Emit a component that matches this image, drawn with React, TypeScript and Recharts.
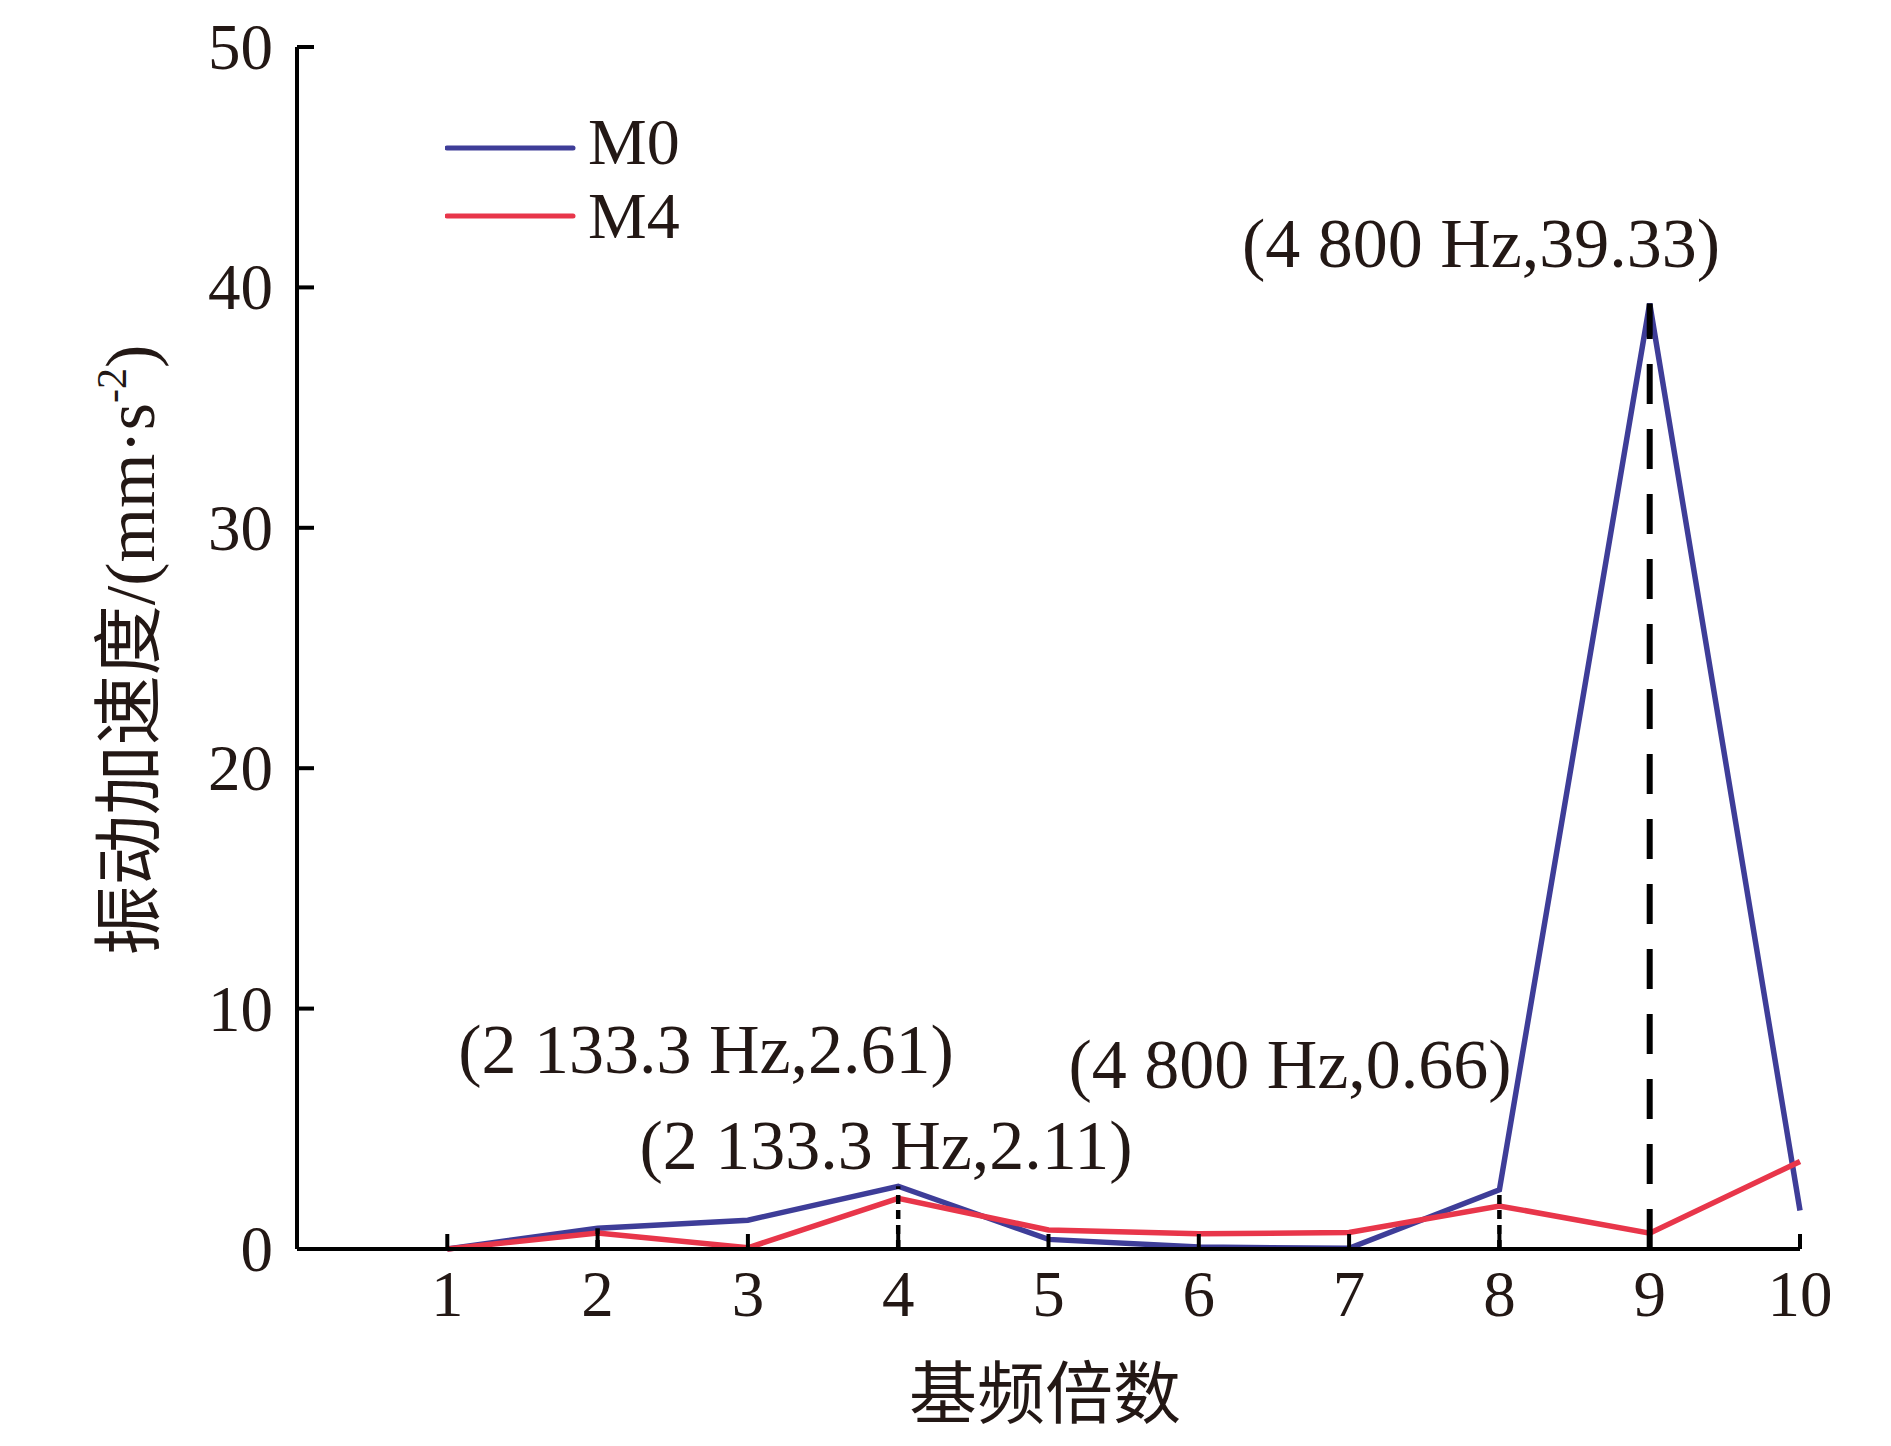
import { Legend, Line, LineChart, ReferenceLine, XAxis, YAxis } from "recharts";

const harmonics = [1, 2, 3, 4, 5, 6, 7, 8, 9, 10];
const m0Values = [0, 0.86, 1.2, 2.61, 0.4, 0.08, 0.03, 2.46, 39.33, 1.6];
const m4Values = [0, 0.67, 0.05, 2.11, 0.79, 0.63, 0.69, 1.79, 0.66, 3.64];
const yTicks = [0, 10, 20, 30, 40, 50];
const xTicks = harmonics;
const markedHarmonics = [2, 4, 8, 9];
const peakLabels = [
  "(4 800 Hz,39.33)",
  "(2 133.3 Hz,2.61)",
  "(2 133.3 Hz,2.11)",
  "(4 800 Hz,0.66)",
];

const SERIF = "'Liberation Serif', 'Times New Roman', 'Noto Sans CJK SC', serif";
const INK = "#231815";
const BLUE = "#3e3d98";
const RED = "#e8364a";

const data = harmonics.map((h, i) => ({ harmonic: h, M0: m0Values[i], M4: m4Values[i] }));

const XTick = ({ x, y, payload }: any) => (
  <g>
    <line x1={x} x2={x} y1={y} y2={y - 15} stroke="#000" strokeWidth={4} />
    <text x={x} y={y + 67} textAnchor="middle" fontSize={65} fontFamily={SERIF} fill={INK}>
      {payload.value}
    </text>
  </g>
);

const YTick = ({ x, y, payload }: any) => (
  <g>
    <line x1={x} x2={x + 17} y1={y} y2={y} stroke="#000" strokeWidth={4} />
    <text x={x - 24} y={y + 22} textAnchor="end" fontSize={65} fontFamily={SERIF} fill={INK}>
      {payload.value}
    </text>
  </g>
);

const LegendBox = ({ payload }: any) => (
  <svg width={320} height={170}>
    {(payload || []).map((entry: any, i: number) => (
      <g key={entry.value}>
        <line
          x1={2}
          x2={128}
          y1={48 + i * 68}
          y2={48 + i * 68}
          stroke={entry.color}
          strokeWidth={5}
          strokeLinecap="round"
        />
        <text x={143} y={64 + i * 74} fontSize={66} fontFamily={SERIF} fill={INK}>
          {entry.value}
        </text>
      </g>
    ))}
  </svg>
);

// where the callout texts sit: [centre x, baseline y]
const labelPos = [
  [1481, 267],
  [706, 1073],
  [886, 1169],
  [1290, 1088],
];

export default function App() {
  return (
    <div style={{ position: "absolute", left: 0, top: 0, width: 1891, height: 1446, background: "#fff" }}>
      <LineChart
        width={1891}
        height={1446}
        data={data}
        margin={{ top: 47, right: 91, bottom: 167, left: 237 }}
      >
        <XAxis
          type="number"
          dataKey="harmonic"
          domain={[0, 10]}
          ticks={xTicks}
          interval={0}
          tickSize={0}
          tickMargin={0}
          tickLine={false}
          axisLine={{ stroke: "#000", strokeWidth: 4 }}
          tick={<XTick />}
          height={30}
        />
        <YAxis
          type="number"
          domain={[0, 50]}
          ticks={yTicks}
          interval={0}
          tickSize={0}
          tickMargin={0}
          tickLine={false}
          axisLine={{ stroke: "#000", strokeWidth: 4 }}
          tick={<YTick />}
          width={60}
        />
        <Legend
          layout="vertical"
          align="center"
          verticalAlign="middle"
          content={<LegendBox />}
          wrapperStyle={{ position: "absolute", left: 445, top: 100, width: 320, height: 170 }}
        />
        <Line
          type="linear"
          dataKey="M0"
          name="M0"
          stroke={BLUE}
          strokeWidth={5.5}
          dot={false}
          activeDot={false}
          isAnimationActive={false}
        />
        <Line
          type="linear"
          dataKey="M4"
          name="M4"
          stroke={RED}
          strokeWidth={5.5}
          dot={false}
          activeDot={false}
          isAnimationActive={false}
        />
        {markedHarmonics.map((h) => (
          <ReferenceLine
            key={h}
            segment={[
              { x: h, y: 0 },
              { x: h, y: m0Values[h - 1] },
            ]}
            stroke="#000"
            strokeWidth={h === 9 ? 6 : 4.5}
            strokeDasharray={h === 9 ? "40 25" : "9 6"}
          />
        ))}
      </LineChart>
      <svg
        width={1891}
        height={1446}
        style={{ position: "absolute", left: 0, top: 0, pointerEvents: "none" }}
      >
        {peakLabels.map((t, i) => (
          <text
            key={t + i}
            x={labelPos[i][0]}
            y={labelPos[i][1]}
            textAnchor="middle"
            fontSize={70}
            fontFamily={SERIF}
            fill={INK}
          >
            {t}
          </text>
        ))}
        <text
          transform="translate(154, 650) rotate(-90)"
          textAnchor="middle"
          fontSize={70}
          fontFamily={SERIF}
          fill={INK}
        >
          振动加速度/(mm·s
          <tspan dy={-28} fontSize={42}>
            -2
          </tspan>
          <tspan dy={28}>)</tspan>
        </text>
        <text x={1045} y={1418} textAnchor="middle" fontSize={68} fontFamily={SERIF} fill={INK}>
          基频倍数
        </text>
      </svg>
    </div>
  );
}
